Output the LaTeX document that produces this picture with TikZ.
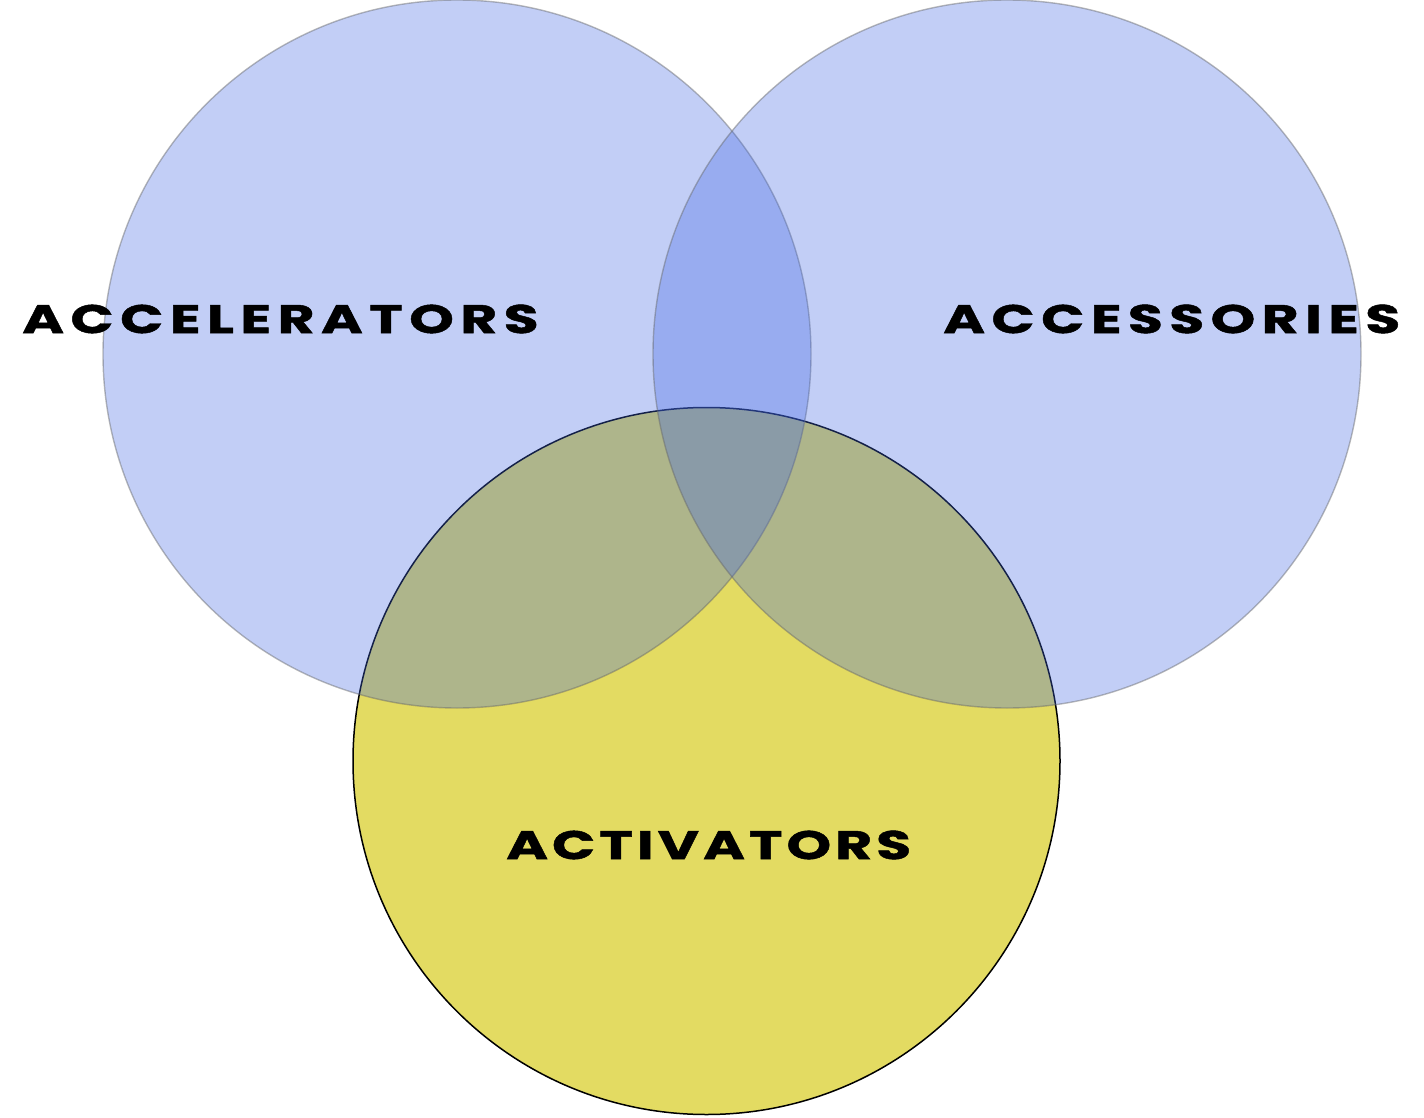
\documentclass[tikz,border=0pt]{standalone}
\usepackage{fontspec}
\usepackage{tikz}
\newfontfamily\vennfont[FakeStretch=1.42,FakeBold=1.2,LetterSpace=16]{Poppins}
\newfontfamily\vennfonttight[FakeStretch=1.42,FakeBold=1.2,LetterSpace=10]{Poppins}
\definecolor{accelcolor}{HTML}{4066E3}
\definecolor{activcolor}{HTML}{E3DB62}
\tikzset{
  venn blue/.style={fill=accelcolor,fill opacity=.32,draw=black!60,draw opacity=.45,line width=1.4pt},
  venn yellow/.style={fill=activcolor,draw=black,line width=1.5pt},
  venn label/.style={font=\vennfont\bfseries\fontsize{40}{40}\selectfont,inner sep=0pt,anchor=west}
}
\begin{document}
\begin{tikzpicture}[x=1pt,y=-1pt]
  \useasboundingbox (0,0) rectangle (1424,1118);
  \draw[venn yellow] (706.5,761) circle (353.5);
  \draw[venn blue] (457,354) circle (354);
  \draw[venn blue] (1007,354) circle (354);
  \node[venn label] (accelerators) at (22,319) {ACCELERATORS};
  \node[venn label] (accessories) at (943,319) {ACCESSORIES};
  \node[venn label,font=\vennfonttight\bfseries\fontsize{40}{40}\selectfont] (activators) at (506,845) {ACTIVATORS};
\end{tikzpicture}
\end{document}
